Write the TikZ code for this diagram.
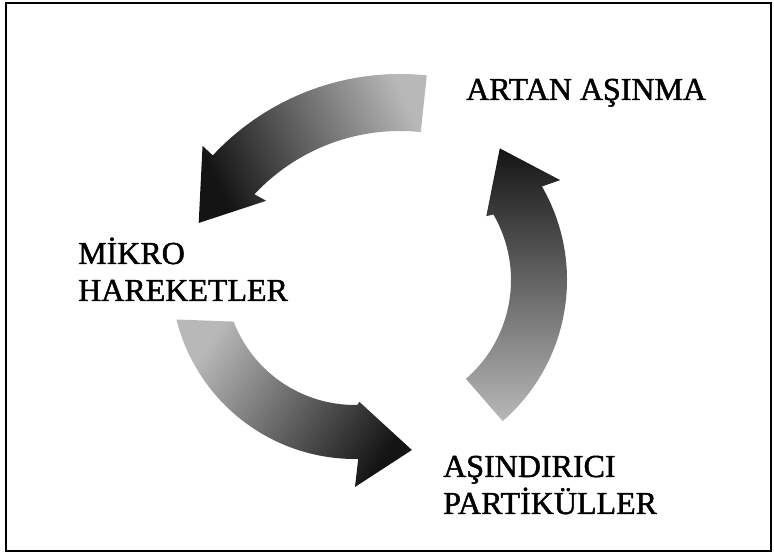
\documentclass[tikz,border=0pt]{standalone}
\usepackage{fontspec}
\setmainfont{Liberation Serif}
\newfontfamily\lblfont{Liberation Serif}[FakeBold=1.5]
\begin{document}
\begin{tikzpicture}[x=1pt,y=1pt,
  lbl/.style={anchor=base west, inner sep=0pt, align=left, font=\lblfont\fontsize{32}{37}\selectfont},
  frame/.style={draw=black, line width=2.5pt},
  cyclearrow/.style={draw=none}]
\useasboundingbox (0,0) rectangle (774,556);
\draw[frame] (6,553) rectangle (771,5);

% top-left arrow
\begin{scope}[shift={(400,226)}]
\shade[cyclearrow, top color=black!28, middle color=black!80, bottom color=black!92, shading angle=-65]
  (84:256pt) arc[start angle=84, end angle=137, radius=256pt]
  -- (137:270pt) -- (152:228pt) -- (136:186pt) -- (137:199pt)
  arc[start angle=137, end angle=84, radius=199pt] -- cycle;
\end{scope}

% right arrow
\begin{scope}[shift={(380,276)}]
\shade[cyclearrow, top color=black!92, middle color=black!84, bottom color=black!28, shading angle=0]
  (-49:187pt) arc[start angle=-49, end angle=30, radius=187pt]
  -- (29:206pt) -- (47.7:178pt) -- (31:124pt) -- (30:131pt)
  arc[start angle=30, end angle=-49, radius=131pt] -- cycle;
\end{scope}

% bottom-left arrow
\begin{scope}[shift={(355,281)}]
\shade[cyclearrow, top color=black!28, middle color=black!80, bottom color=black!92, shading angle=56]
  (194:184pt) arc[start angle=194, end angle=271, radius=184pt]
  -- (270:212pt) -- (288:184pt) -- (272:127pt) -- (271:130pt)
  arc[start angle=271, end angle=201, radius=130pt] -- cycle;
\end{scope}

\node[lbl] (artan) at (466,456) {ARTAN AŞINMA};
\node[lbl] (mikro) at (78,255) {MİKRO\\HAREKETLER};
\node[lbl] (asindirici) at (443,42) {AŞINDIRICI\\PARTİKÜLLER};
\end{tikzpicture}
\end{document}
